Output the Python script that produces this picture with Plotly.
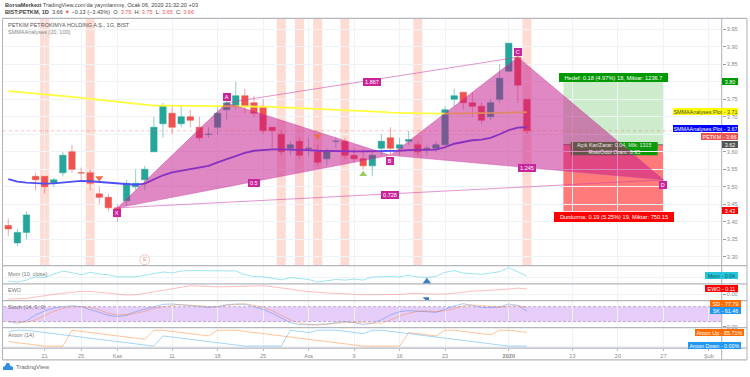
import plotly.graph_objects as go

W, H = 750, 377

# ---- data ----
opens  = [3.39,3.34,3.37,3.53,3.53,3.51,3.54,3.60,3.54,3.54,3.48,3.47,3.44,3.46,3.50,3.52,3.60,3.68,3.71,3.68,3.70,3.67,3.65,3.67,3.72,3.73,3.76,3.74,3.73,3.67,3.65,3.61,3.63,3.61,3.60,3.58,3.63,3.63,3.59,3.58,3.56,3.61,3.64,3.61,3.63,3.62,3.61,3.61,3.62,3.75,3.77,3.74,3.73,3.70,3.75,3.83,3.87,3.75]
highs  = [3.41,3.38,3.43,3.54,3.53,3.525,3.60,3.62,3.555,3.55,3.50,3.48,3.45,3.52,3.55,3.56,3.70,3.74,3.73,3.73,3.72,3.70,3.67,3.73,3.76,3.80,3.78,3.76,3.75,3.67,3.66,3.63,3.64,3.64,3.62,3.61,3.64,3.64,3.61,3.61,3.60,3.65,3.67,3.64,3.66,3.63,3.62,3.63,3.73,3.78,3.77,3.77,3.74,3.75,3.85,3.91,3.88,3.75]
lows   = [3.36,3.33,3.35,3.49,3.48,3.50,3.53,3.54,3.52,3.49,3.45,3.43,3.40,3.445,3.49,3.49,3.60,3.64,3.65,3.67,3.67,3.63,3.64,3.65,3.69,3.72,3.71,3.70,3.65,3.61,3.59,3.59,3.58,3.59,3.56,3.56,3.61,3.58,3.57,3.55,3.53,3.59,3.59,3.59,3.62,3.59,3.59,3.60,3.61,3.73,3.72,3.70,3.68,3.69,3.74,3.83,3.74,3.65]
closes = [3.38,3.37,3.42,3.52,3.50,3.52,3.59,3.55,3.54,3.51,3.47,3.44,3.43,3.51,3.51,3.55,3.67,3.73,3.67,3.70,3.69,3.64,3.65,3.71,3.74,3.76,3.73,3.71,3.66,3.66,3.60,3.62,3.59,3.61,3.57,3.60,3.63,3.59,3.58,3.56,3.59,3.63,3.61,3.62,3.635,3.60,3.61,3.62,3.72,3.76,3.74,3.73,3.69,3.74,3.81,3.91,3.79,3.66]

smma20 = [3.522,3.515,3.512,3.510,3.509,3.510,3.513,3.515,3.517,3.516,3.514,3.511,3.508,3.506,3.506,3.509,3.522,3.533,3.541,3.546,3.552,3.555,3.560,3.570,3.579,3.589,3.597,3.603,3.606,3.607,3.607,3.607,3.606,3.605,3.603,3.602,3.601,3.601,3.601,3.601,3.601,3.602,3.603,3.603,3.605,3.606,3.606,3.606,3.613,3.623,3.628,3.633,3.635,3.640,3.650,3.662,3.669,3.670]
smma100 = [3.773,3.771,3.768,3.766,3.764,3.762,3.760,3.757,3.754,3.751,3.748,3.745,3.742,3.739,3.736,3.734,3.732,3.732,3.731,3.731,3.731,3.731,3.730,3.730,3.730,3.730,3.730,3.730,3.729,3.728,3.727,3.726,3.725,3.724,3.722,3.721,3.720,3.719,3.718,3.716,3.715,3.714,3.712,3.711,3.710,3.710,3.709,3.709,3.709,3.709,3.709,3.710,3.710,3.711,3.711,3.712,3.713,3.713]

mom = [-0.12,-0.154,-0.09,0.018,-0.003,0.105,0.202,0.148,0.083,0.159,0.105,0.083,0.018,0.018,0.018,0.062,0.105,0.17,0.137,0.202,0.213,0.213,0.213,0.213,0.213,0.202,0.083,0.018,0.018,-0.025,-0.08,-0.014,-0.036,-0.068,-0.154,-0.1,-0.068,-0.09,-0.057,-0.09,0.008,0.018,0.029,0.008,0.072,0.008,-0.003,0.029,0.159,0.213,0.137,0.116,0.094,0.137,0.18,0.31,0.17,0.04]
ewo = [-0.096,-0.089,-0.083,-0.055,-0.021,0,0.021,0.041,0.062,0.062,0.048,0.028,0.007,-0.014,-0.007,0.021,0.055,0.089,0.124,0.158,0.179,0.172,0.158,0.158,0.158,0.165,0.179,0.179,0.179,0.158,0.138,0.11,0.076,0.055,0.041,0.028,0.021,0.007,-0.007,-0.007,-0.007,-0.007,-0.007,0,0.014,0.021,0.007,0,0.007,0.021,0.048,0.069,0.076,0.083,0.096,0.11,0.131,0.11]
stoch_k = [20,13.3,22.7,46.7,62.7,74.7,80,84,80,69.3,56,45.3,40,45.3,60,70.7,80,89.3,90.7,86.7,84,80,77.3,80,88,90.7,89.3,80,69.3,53.3,33.3,16,8,6.7,9.3,10.7,16,20,16,8,13.3,26.7,46.7,60,64,62.7,60,57.3,69.3,82.7,92,85.3,77.3,76,80,90.7,85.3,61.46]
stoch_d = [20,18.7,17.3,26.7,44,61.3,73.3,80,80,77.3,66.7,53.3,46.7,48,53.3,61.3,73.3,80,85.3,88,86.7,84,80,80,85.3,89.3,92,85.3,77.3,64,45.3,26.7,13.3,10.7,5.3,9.3,13.3,16,16,14.7,12,13.3,26.7,42.7,53.3,61.3,62.7,60,64,72,84,86.7,85.3,80,77.3,82.7,84,77.79]
aroon_up = [28.6,21.4,14.3,7.1,0,0,0,100,92.9,85.7,78.6,71.4,64.3,57.1,50,42.9,100,100,92.9,85.7,78.6,71.4,64.3,100,100,100,92.9,85.7,78.6,71.4,64.3,57.1,50,42.9,35.7,28.6,21.4,14.3,7.1,0,0,0,0,0,85.7,78.6,71.4,64.3,100,100,92.9,85.7,78.6,71.4,100,100,92.9,85.71]
aroon_down = [92.9,100,100,92.9,85.7,78.6,71.4,64.3,57.1,50,42.9,35.7,28.6,21.4,14.3,7.1,0,64.3,57.1,50,42.9,35.7,28.6,21.4,14.3,7.1,0,0,0,0,0,100,92.9,85.7,100,100,100,92.9,85.7,78.6,100,100,92.9,85.7,78.6,71.4,64.3,57.1,50,42.9,35.7,28.6,21.4,14.3,7.1,0,0,0]

bars = list(range(len(closes)))
tick_bars = [4,8,12,18,23,28,33,38,43,48,55,62,67,72,77]
tick_labels = ["21","25","Kas","11","18","25","Ara","9","16","23","<b>2020</b>","13","20","27","Şub"]
price_ticks = [3.30,3.35,3.40,3.45,3.50,3.55,3.60,3.65,3.70,3.75,3.80,3.85,3.90,3.95]
price_tick_labels = ["3.30","3.35","3.40","3.45","3.50","3.55","3.60","","3.70","3.75","","3.85","3.90","3.95"]

highlight_bars = [4,9,30,32,34,37,45,57]

pattern_names = ["X","A","B","C","D"]
pattern_bars = [12,24,42,56,72]
pattern_prices = [3.44,3.74,3.59,3.87,3.52]
pattern_label_prices = [3.425,3.755,3.573,3.885,3.505]

ratio_labels = ["1.867","0.5","0.728","1.245"]
ratio_bars = [40,27,42,57]
ratio_prices = [3.80,3.51,3.477,3.553]

last_price = 3.66
target_price, entry_price, stop_price = 3.80, 3.62, 3.43
position_start, position_end = 61, 72

sell_signal_bars, sell_signal_prices = [10,34], [3.525,3.645]
buy_signal_bars, buy_signal_prices = [39], [3.536]

# ---- helpers ----
def px(x): return x / W
def py(y): return 1 - y / H
X_LEFT, X_RIGHT = 3, 721.7
FRAME = "#b4b6bd"
GRID = "#eef3f6"
PINK = "rgba(193,17,137,0.5)"
PINK_LINE = "rgba(205,60,165,0.55)"
LABEL_PINK = "#c9259a"
FONT = "Liberation Sans"

fig = go.Figure()

fig.add_trace(go.Candlestick(
    x=bars, open=opens, high=highs, low=lows, close=closes, xaxis="x", yaxis="y",
    increasing=dict(line=dict(color="rgba(38,166,154,0.6)", width=0.9), fillcolor="#26a69a"),
    decreasing=dict(line=dict(color="rgba(239,83,80,0.6)", width=0.9), fillcolor="#ef5350"),
    whiskerwidth=0, showlegend=False))

fig.add_trace(go.Scatter(x=bars, y=smma100, mode="lines", line=dict(color="#ffff3c", width=1.8), yaxis="y"))
fig.add_trace(go.Scatter(x=bars, y=smma20, mode="lines", line=dict(color="#4f4ff5", width=1.8), yaxis="y"))

# harmonic pattern triangles
for a, b, c in [(0, 1, 2), (2, 3, 4)]:
    fig.add_trace(go.Scatter(
        x=[pattern_bars[a], pattern_bars[b], pattern_bars[c], pattern_bars[a]],
        y=[pattern_prices[a], pattern_prices[b], pattern_prices[c], pattern_prices[a]],
        mode="lines", fill="toself", fillcolor=PINK, line=dict(color=PINK_LINE, width=0.8), yaxis="y"))
for a, b in [(1, 3), (0, 4)]:
    fig.add_trace(go.Scatter(
        x=[pattern_bars[a], pattern_bars[b]], y=[pattern_prices[a], pattern_prices[b]],
        mode="lines", line=dict(color=PINK_LINE, width=1), yaxis="y"))

fig.add_trace(go.Scatter(x=sell_signal_bars, y=sell_signal_prices, mode="markers", yaxis="y",
    marker=dict(symbol="triangle-down", size=7, color="#ee6c45", line=dict(width=0))))
fig.add_trace(go.Scatter(x=buy_signal_bars, y=buy_signal_prices, mode="markers", yaxis="y",
    marker=dict(symbol="triangle-up", size=7, color="#9ccc65", line=dict(width=0))))
fig.add_trace(go.Scatter(x=[15], y=[3.292], mode="markers+text", text=["E"], yaxis="y",
    textposition="middle center", textfont=dict(size=5.5, color="#f2998c", family=FONT),
    marker=dict(symbol="circle-open", size=10, color="#f7b4a8", line=dict(width=0.8))))

# indicator panes
fig.add_trace(go.Scatter(x=bars, y=mom, mode="lines", line=dict(color="rgba(38,198,218,0.45)", width=1), yaxis="y2"))
fig.add_trace(go.Scatter(x=[46], y=[-0.208], mode="markers", yaxis="y2", marker=dict(symbol="triangle-up", size=12, color="#3a7fc0")))
fig.add_trace(go.Scatter(x=bars, y=ewo, mode="lines", line=dict(color="rgba(255,90,90,0.4)", width=1), yaxis="y3"))
fig.add_trace(go.Scatter(x=[46], y=[-0.105], mode="markers", yaxis="y3", marker=dict(symbol="triangle-ne", size=7, color="#3a7fc0")))
fig.add_trace(go.Scatter(x=bars, y=stoch_k, mode="lines", line=dict(color="rgba(33,120,243,0.42)", width=0.9), yaxis="y4"))
fig.add_trace(go.Scatter(x=bars, y=stoch_d, mode="lines", line=dict(color="rgba(255,109,0,0.38)", width=0.9), yaxis="y4"))
fig.add_trace(go.Scatter(x=bars, y=aroon_up, mode="lines", line=dict(color="rgba(255,109,0,0.45)", width=0.9), yaxis="y5"))
fig.add_trace(go.Scatter(x=bars, y=aroon_down, mode="lines", line=dict(color="rgba(33,150,243,0.45)", width=0.9), yaxis="y5"))

shapes = []
for b in highlight_bars:
    shapes.append(dict(type="rect", xref="x", yref="y domain", x0=b - 0.5, x1=b + 0.5, y0=0, y1=1,
                       fillcolor="#ffdcd3", line_width=0, layer="below"))
shapes += [
    dict(type="rect", xref="x", yref="y", x0=position_start, x1=position_end, y0=entry_price, y1=target_price,
         fillcolor="rgba(0,160,0,0.2)", line_width=0, layer="below"),
    dict(type="rect", xref="x", yref="y", x0=position_start, x1=position_end, y0=stop_price, y1=entry_price,
         fillcolor="rgba(255,0,0,0.52)", line_width=0, layer="below"),
    dict(type="line", xref="x", yref="y", x0=position_start, x1=position_end, y0=entry_price, y1=entry_price,
         line=dict(color="#666", width=1), layer="below"),
    dict(type="rect", xref="x", yref="y", x0=61.8, x1=71.36, y0=3.59, y1=3.628,
         fillcolor="#0a9a0a", line_width=0, layer="below"),
]
shapes.append(dict(type="rect", xref="x domain", yref="y4", x0=0, x1=1, y0=20, y1=80,
                   fillcolor="#e6cdfa", line_width=0, layer="below"))
for lvl in (20, 80):
    shapes.append(dict(type="line", xref="x domain", yref="y4", x0=0, x1=1, y0=lvl, y1=lvl,
                       line=dict(color="#a592b3", width=0.7, dash="3px,2px"), layer="above"))
shapes.append(dict(type="line", xref="x domain", yref="y", x0=0, x1=1, y0=last_price, y1=last_price,
                   line=dict(color="rgba(239,83,80,0.5)", width=0.7, dash="dot"), layer="above"))
for yy in (18.5, 267, 285.3, 302.3, 329.3, 350, 361.7):
    shapes.append(dict(type="line", xref="paper", yref="paper", x0=px(2.5), x1=px(747), y0=py(yy), y1=py(yy),
                       line=dict(color=FRAME, width=1.2), layer="above"))
for xx in (2.5, 721.7, 747):
    shapes.append(dict(type="line", xref="paper", yref="paper", x0=px(xx), x1=px(xx), y0=py(18.5), y1=py(361.7),
                       line=dict(color=FRAME, width=1.1), layer="above"))
shapes.append(dict(type="path", xref="paper", yref="paper", layer="above", fillcolor="#2f8fe0", line_width=0,
    path=f"M {px(3)} {py(372)} L {px(13)} {py(372)} L {px(13)} {py(369)} L {px(10.5)} {py(368)} L {px(9)} {py(365)} "
         f"L {px(6.5)} {py(365)} L {px(5)} {py(368)} L {px(3)} {py(369)} Z"))

ann = []
def text(x, y, s, size=5.6, color="#555", anchor="left"):
    ann.append(dict(xref="paper", yref="paper", x=px(x), y=py(y), text=s, showarrow=False, xanchor=anchor,
                    yanchor="middle", font=dict(size=size, color=color, family=FONT)))

RED = "#ef5350"
text(3, 5, "<b>BorsaMerkezi</b> TradingView.com'da yayınlanmış, Ocak 06, 2020 21:32:20 +03", 5.6, "#444")
text(3, 12, f"<b>BIST:PETKM, 1D</b>  3.66 <span style='color:{RED}'>▼</span> −0.13 (−3.43%)  O: <span style='color:{RED}'>3.75</span>  H: <span style='color:{RED}'>3.75</span>  L: <span style='color:{RED}'>3.65</span>  C: <span style='color:{RED}'>3.66</span>", 5.6, "#444")
text(6, 25.5, "PETKİM PETROKİMYA HOLDİNG A.Ş., 1G, BIST", 5.5, "#555")
text(6, 32.5, "SMMAAnalyses (20, 100)", 5.5, "#888")
text(6, 275, "Mom (10, close)", 5.5, "#777")
text(6, 292, "EWO", 5.5, "#777")
text(6, 309, "Stoch (14, 9, 9)", 5.5, "#777")
text(6, 337, "Aroon (14)", 5.5, "#777")
text(14, 369, "TradingView", 6, "#666")

for n, b, p in zip(pattern_names, pattern_bars, pattern_label_prices):
    ann.append(dict(xref="x", yref="y", x=b, y=p, text=n, showarrow=False, bgcolor=LABEL_PINK, borderpad=0,
                    borderwidth=0, width=7.5, height=7.5, font=dict(size=5.5, color="white", family=FONT)))
for n, b, p in zip(ratio_labels, ratio_bars, ratio_prices):
    ann.append(dict(xref="x", yref="y", x=b, y=p, text=n, showarrow=False, bgcolor=LABEL_PINK, borderpad=0,
                    borderwidth=0, width=3.2 * len(n) + 2, height=7.5, font=dict(size=5.5, color="white", family=FONT)))

def box(xc, yc, s, bg, w, h):
    ann.append(dict(xref="paper", yref="paper", x=px(xc), y=py(yc), text=s, showarrow=False, bgcolor=bg,
                    borderpad=0, borderwidth=0, width=w, height=h, xanchor="center", yanchor="middle", align="center",
                    font=dict(size=5.7, color="white", family=FONT)))

box(613.5, 77.5, "Hedef: 0.18 (4.97%) 18, Miktar: 1236.7", "#009900", 109, 9)
box(614, 217.8, "Durdurma: 0.19 (5.25%) 19, Miktar: 750.15", "#ff0000", 120, 9.5)
ann.append(dict(xref="paper", yref="paper", x=px(614), y=py(149.3), showarrow=False, align="center",
                text="Açık Kar/Zarar: 0.04, Mik: 1315<br>Risk/Ödül Oranı: 0.95", xanchor="center", yanchor="middle",
                font=dict(size=5.4, color="#e8e8e8", family=FONT)))

def side(y, s, bg, w, fg="white", right=738):
    ann.append(dict(xref="paper", yref="paper", x=px(right), y=py(y), text=s, showarrow=False, bgcolor=bg,
                    borderpad=0, borderwidth=0, width=w, height=7, xanchor="right", yanchor="middle",
                    font=dict(size=5.4, color=fg, family=FONT)))

side(82, "3.80", "#009900", 16)
side(112.3, "SMMAAnalyses:Plot - 3.71", "#ffff00", 65, "#444")
side(129.3, "SMMAAnalyses:Plot - 3.67", "#0000ff", 65)
side(137, "PETKM - 3.66", RED, 37)
side(145, "3.62", "#555555", 16)
side(212, "3.43", "#ff0000", 16)
side(277, "Mom - 0.04", "#26c6da", 33, "#155")
side(290.3, "EWO - 0.11", "#ff0000", 33)
side(305, "SD - 77.79", "#ff6d00", 31, right=741)
side(312, "SK - 61.46", "#2196f3", 31, right=741)
side(334, "Aroon Up - 85.71%", "#ff6d00", 49, right=744)
side(347, "Aroon Down - 0.00%", "#2196f3", 53, right=741)

tickfont = dict(size=5.6, color="#8a8a8a", family=FONT)
def yaxis(top, bottom, rng, **kw):
    base = dict(domain=[py(bottom), py(top)], range=rng, anchor="x", side="right", showgrid=True, gridcolor=GRID,
                gridwidth=0.8, zeroline=False, showline=False, ticks="outside", ticklen=3, tickcolor="#999",
                tickwidth=0.6, tickfont=tickfont, fixedrange=True)
    base.update(kw)
    return base

fig.update_layout(
    width=W, height=H, autosize=False, margin=dict(l=0, r=0, t=0, b=0), showlegend=False,
    paper_bgcolor="white", plot_bgcolor="white", hovermode=False, boxgap=0.16, boxgroupgap=0.16,
    xaxis=dict(domain=[px(X_LEFT), px(X_RIGHT)], range=[-0.58, 78.4], anchor="y5", tickmode="array",
               tickvals=tick_bars, ticktext=tick_labels, tickfont=tickfont, ticks="outside", ticklen=2,
               tickcolor="#bbb", showgrid=True, gridcolor=GRID, gridwidth=0.8, zeroline=False, showline=False,
               rangeslider=dict(visible=False), fixedrange=True),
    yaxis=yaxis(18.5, 267, [3.2753, 3.9807], tickmode="array", tickvals=price_ticks, ticktext=price_tick_labels),
    yaxis2=yaxis(267, 285.3, [-0.208, 0.375], tickmode="array", tickvals=[0.0], ticktext=[""]),
    yaxis3=yaxis(285.3, 302.3, [-0.131, 0.22], tickmode="array", tickvals=[0.0], ticktext=["0.00"]),
    yaxis4=yaxis(302.3, 329.3, [-4, 104], tickmode="array", tickvals=[0], ticktext=["0.00"]),
    yaxis5=yaxis(329.3, 350, [-12.8, 117], tickmode="array", tickvals=[0], ticktext=[""]),
    shapes=shapes, annotations=ann,
)
for tr in fig.data:
    tr.showlegend = False

fig.write_html("out.html", config=dict(displayModeBar=False),
               post_script="document.body.style.margin='0';document.body.style.overflow='hidden';")
